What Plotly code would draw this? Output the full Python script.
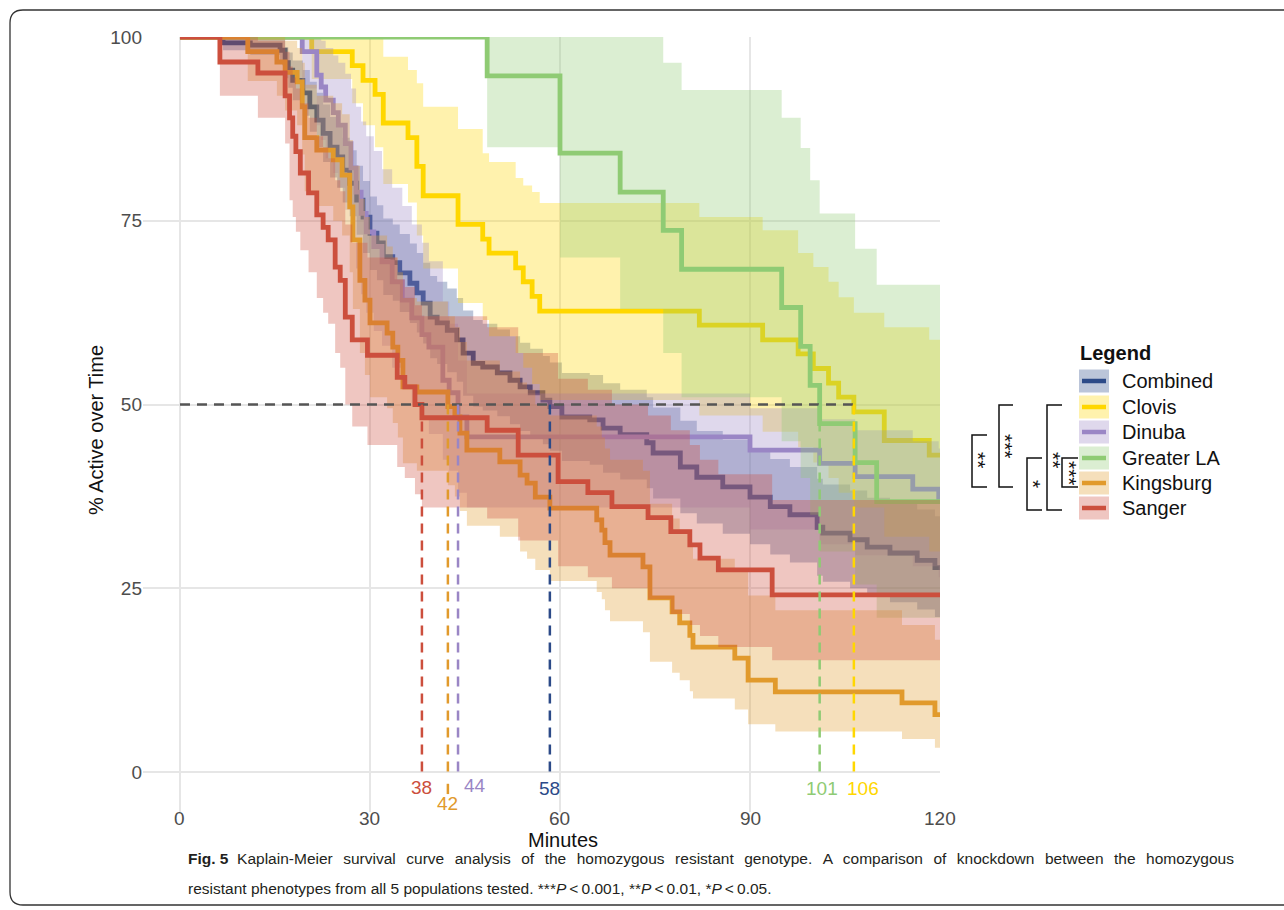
import plotly.graph_objects as go

# ---------------- data ----------------
GROUPS = ["Combined", "Clovis", "Dinuba", "Greater LA", "Kingsburg", "Sanger"]

COMBINED_T = [0, 6.8, 11.1, 15.8, 16.6, 17.1, 17.8, 19.4, 20.5, 21.6, 22.6, 23.7, 24.8, 25.7, 26.8, 27.9, 28.9,
              30.0, 31.1, 32.1, 33.6, 34.7, 36.3, 37.4, 38.4, 39.5, 40.6, 42.2, 43.7, 44.7, 46.3, 47.8, 50.1,
              52.1, 53.7, 55.3, 57.3, 58.4, 60.3, 64.7, 66.8, 69.5, 73.7, 74.7, 79.0, 81.6, 85.7, 90.0, 93.2,
              96.3, 100.6, 101.5, 105.8, 108.5, 112.1, 116.4, 119.2]
COMBINED_S = [100, 99.2, 98.9, 98.2, 96.5, 95.5, 94.1, 92.4, 90.5, 88.7, 86.9, 85.0, 83.7, 81.9, 80.1, 77.8, 75.5,
              73.3, 72.0, 70.1, 69.3, 67.9, 66.5, 65.2, 63.8, 61.9, 61.1, 60.1, 58.8, 57.0, 55.6, 55.1, 54.3,
              53.3, 52.4, 51.6, 50.6, 49.7, 48.3, 47.9, 46.8, 45.9, 44.8, 43.4, 41.5, 40.1, 38.8, 37.4, 36.1,
              35.0, 33.3, 32.5, 31.6, 30.6, 29.8, 28.8, 27.8]
COMBINED_HI = [100, 100, 100, 99.8, 98.6, 97.9, 96.8, 95.5, 93.9, 92.4, 90.8, 89.1, 87.9, 86.3, 84.6, 82.5, 80.4,
               78.3, 77.1, 75.3, 74.5, 73.2, 71.9, 70.6, 69.3, 67.5, 66.7, 65.8, 64.5, 62.8, 61.5, 61.0, 60.2,
               59.3, 58.4, 57.6, 56.6, 55.7, 54.3, 54.0, 52.9, 52.0, 51.0, 49.6, 47.8, 46.4, 45.2, 43.8, 42.6,
               41.5, 39.9, 39.1, 38.3, 37.3, 36.6, 35.7, 34.8]
COMBINED_LO = [100, 98.2, 97.6, 96.6, 94.4, 93.1, 91.4, 89.3, 87.1, 85.0, 83.0, 80.9, 79.5, 77.5, 75.6, 73.1, 70.6,
               68.3, 66.9, 64.9, 64.1, 62.6, 61.1, 59.8, 58.3, 56.3, 55.5, 54.4, 53.1, 51.2, 49.7, 49.2, 48.4,
               47.3, 46.4, 45.6, 44.6, 43.7, 42.3, 41.8, 40.7, 39.8, 38.6, 37.2, 35.2, 33.8, 32.4, 31.0, 29.6,
               28.5, 26.7, 25.9, 25.0, 24.0, 23.1, 22.1, 21.1]

CLOVIS_T = [0, 20.8, 27.2, 28.9, 30.8, 32.1, 36.0, 37.4, 38.4, 43.9, 47.8, 48.8, 53.0, 54.2, 55.6, 56.8, 82.0,
            92.0, 97.6, 100.0, 102.4, 104.0, 106.4, 111.2, 118.3]
CLOVIS_S = [100, 98.0, 96.1, 94.1, 92.2, 88.3, 86.3, 82.4, 78.4, 74.5, 72.5, 70.6, 68.6, 66.7, 64.7, 62.7, 60.8,
            58.8, 56.9, 54.9, 52.9, 51.0, 49.0, 45.1, 43.1]
CLOVIS_HI = [100, 100, 100, 100, 100, 97.3, 95.5, 93.7, 90.5, 87.5, 84.2, 83.0, 80.8, 79.8, 78.9, 77.4, 75.5,
             73.7, 70.6, 68.7, 66.7, 64.6, 62.5, 60.5, 58.8]
CLOVIS_LO = [100, 94.3, 91.0, 88.0, 85.0, 80.0, 77.5, 73.0, 68.5, 63.8, 61.5, 59.3, 57.0, 55.0, 52.8, 50.6, 48.5,
             46.3, 44.2, 42.1, 40.0, 38.0, 36.0, 32.0, 30.0]

DINUBA_T = [0, 19.3, 21.6, 22.3, 23.0, 24.2, 25.0, 26.1, 27.0, 27.8, 28.6, 29.4, 30.6, 31.9, 33.5, 35.1, 36.6,
            38.2, 39.3, 41.5, 42.5, 43.9, 45.3, 90.0, 101.0, 106.6, 115.7, 119.8]
DINUBA_S = [100, 98.0, 94.8, 93.2, 91.4, 89.7, 88.0, 85.5, 82.2, 78.9, 76.0, 73.5, 71.5, 69.4, 66.7, 64.2, 61.8,
            59.5, 57.8, 53.3, 51.6, 48.3, 45.6, 43.8, 42.0, 40.2, 38.5, 37.0]
DINUBA_HI = [100, 100, 100, 99.5, 98.5, 97.5, 96.5, 95.0, 93.0, 90.5, 88.5, 86.5, 84.5, 82.0, 79.5, 77.0, 74.5,
             72.0, 69.5, 64.0, 61.0, 56.0, 51.5, 49.5, 48.0, 46.5, 45.0, 44.0]
DINUBA_LO = [100, 93.0, 88.0, 86.0, 83.5, 81.5, 79.5, 76.5, 72.5, 68.5, 65.0, 62.5, 60.0, 58.0, 55.0, 52.5, 50.0,
             48.0, 46.0, 42.5, 41.0, 38.0, 36.0, 33.0, 31.0, 29.5, 28.0, 26.5]

GLA_T = [0, 48.5, 60.0, 69.5, 76.3, 79.2, 95.0, 98.0, 99.5, 101.0, 106.6, 110.0]
GLA_S = [100, 94.7, 84.2, 78.9, 73.7, 68.4, 63.2, 57.9, 52.6, 47.4, 42.1, 36.8]
GLA_HI = [100, 100, 100, 100, 96.5, 92.8, 89.0, 84.9, 80.5, 76.0, 71.2, 66.3]
GLA_LO = [100, 85.0, 70.0, 63.0, 57.0, 51.0, 45.0, 40.0, 35.0, 30.0, 25.5, 21.0]

KINGS_T = [0, 10.7, 15.3, 16.6, 18.5, 19.3, 19.7, 21.6, 24.2, 25.6, 26.8, 27.3, 28.4, 29.2, 30.0, 32.7, 33.6,
           34.4, 35.2, 37.4, 42.3, 43.4, 44.2, 45.3, 50.5, 53.7, 54.8, 56.1, 58.4, 65.8, 66.6, 67.1, 67.9, 73.1,
           74.2, 77.7, 78.9, 80.5, 81.0, 87.6, 89.7, 94.0, 114.0, 119.2]
KINGS_S = [100, 98.0, 96.6, 95.2, 93.9, 90.5, 86.3, 84.6, 83.3, 81.2, 76.9, 72.4, 66.9, 64.2, 61.1, 59.7, 57.8,
           56.0, 52.4, 51.7, 49.7, 48.3, 46.1, 43.8, 42.2, 40.4, 39.3, 37.4, 35.9, 34.3, 32.9, 31.2, 29.5, 27.9,
           23.7, 21.8, 20.3, 18.6, 17.0, 15.5, 12.5, 10.9, 9.4, 7.8]
KINGS_HI = [100, 100, 100, 99.5, 98.5, 96.5, 93.5, 92.0, 91.0, 89.5, 86.0, 82.5, 78.0, 75.5, 73.0, 71.5, 70.0,
            68.0, 64.5, 64.0, 62.0, 60.5, 58.5, 56.0, 54.5, 53.0, 52.0, 50.0, 48.5, 47.0, 45.5, 44.0, 42.5, 41.0,
            36.5, 34.5, 33.0, 31.0, 29.0, 27.5, 24.0, 22.0, 20.0, 18.0]
KINGS_LO = [100, 94.0, 92.0, 90.0, 88.0, 84.0, 79.0, 77.0, 75.0, 73.0, 68.0, 63.0, 57.0, 54.0, 51.0, 49.5, 47.5,
            45.5, 42.0, 41.0, 39.0, 37.5, 35.5, 33.5, 32.0, 30.0, 29.0, 27.5, 26.0, 24.5, 23.5, 22.0, 20.5, 19.0,
            15.0, 13.5, 12.5, 11.0, 10.0, 8.5, 6.5, 5.5, 4.5, 3.3]

SANGER_T = [0, 6.3, 12.3, 16.6, 17.3, 17.8, 18.3, 19.0, 20.3, 21.6, 22.6, 23.4, 24.5, 25.3, 26.1, 27.2, 29.6,
            34.3, 35.5, 37.1, 38.2, 48.5, 53.4, 59.7, 64.4, 68.2, 73.9, 77.5, 80.5, 82.1, 85.0, 93.5]
SANGER_S = [100, 96.6, 95.1, 92.0, 89.0, 86.5, 84.4, 81.5, 78.8, 75.8, 74.1, 72.4, 68.7, 66.9, 61.9, 58.8, 56.7,
            53.7, 52.4, 50.0, 48.2, 46.5, 43.1, 39.5, 38.0, 36.1, 34.6, 32.7, 30.9, 29.1, 27.5, 24.1]
SANGER_HI = [100, 100, 99.5, 98.0, 96.0, 94.5, 93.0, 91.0, 89.0, 86.5, 85.0, 83.5, 80.5, 79.0, 74.5, 72.0, 70.0,
             67.0, 66.0, 63.5, 62.0, 60.5, 57.0, 53.5, 52.0, 50.0, 48.5, 46.5, 44.5, 42.5, 40.5, 37.0]
SANGER_LO = [100, 92.0, 89.0, 85.5, 77.8, 75.5, 73.5, 71.0, 68.0, 64.5, 62.5, 61.0, 57.0, 55.0, 50.0, 47.0, 44.5,
             41.5, 40.0, 37.8, 36.0, 34.5, 31.5, 28.0, 26.5, 25.0, 23.5, 21.5, 20.0, 18.5, 17.0, 15.2]

MEDIAN_GROUPS = ["Sanger", "Kingsburg", "Dinuba", "Combined", "Greater LA", "Clovis"]
MEDIAN_TIMES = [38.2, 42.3, 43.9, 58.4, 101.0, 106.4]
MEDIAN_LABELS = ["38", "42", "44", "58", "101", "106"]

X_TICKS = [0, 30, 60, 90, 120]
Y_TICKS = [0, 25, 50, 75, 100]

SIG_STARS = ["**", "***", "*", "**", "***"]

CAPTION_WORDS_1 = ["Kaplain-Meier", "survival", "curve", "analysis", "of", "the", "homozygous", "resistant",
                   "genotype.", "A", "comparison", "of", "knockdown", "between", "the", "homozygous"]
CAPTION_2 = ("resistant phenotypes from all 5 populations tested. ***<i>P</i>&#8201;&lt;&#8201;0.001, "
             "**<i>P</i>&#8201;&lt;&#8201;0.01, *<i>P</i>&#8201;&lt;&#8201;0.05.")

# ---------------- styles / layout ----------------
LINE_COL = {"Combined": "#2c4a88", "Clovis": "#ffd700", "Dinuba": "#9a86c5",
            "Greater LA": "#8fcb74", "Kingsburg": "#e19a2c", "Sanger": "#cc4f3d"}
ALPHA = 0.32


def rgba(hexc, a):
    h = hexc.lstrip("#")
    r, g, b = int(h[0:2], 16), int(h[2:4], 16), int(h[4:6], 16)
    return f"rgba({r},{g},{b},{a})"


SERIES = {
    "Combined": (COMBINED_T, COMBINED_S, COMBINED_LO, COMBINED_HI),
    "Clovis": (CLOVIS_T, CLOVIS_S, CLOVIS_LO, CLOVIS_HI),
    "Dinuba": (DINUBA_T, DINUBA_S, DINUBA_LO, DINUBA_HI),
    "Greater LA": (GLA_T, GLA_S, GLA_LO, GLA_HI),
    "Kingsburg": (KINGS_T, KINGS_S, KINGS_LO, KINGS_HI),
    "Sanger": (SANGER_T, SANGER_S, SANGER_LO, SANGER_HI),
}
T_END = 120

FIG_W, FIG_H = 1284, 910
PL, PR, PT, PB = 143, 940, 37, 812   # plot area in pixels
X_MIN = -5.84
Y_MIN = -5.44
FONT = "Liberation Sans, Arial, sans-serif"
Y0_PX = 772  # pixel row of y = 0


def px(xp):
    return (xp - PL) / (PR - PL)


def py(yp):
    return (PB - yp) / (PB - PT)


def band_polygon(t, lo, hi):
    xs, ys = [], []
    n = len(t)
    for i in range(n):
        t1 = t[i + 1] if i + 1 < n else T_END
        xs += [t[i], t1]
        ys += [hi[i], hi[i]]
    for i in reversed(range(n)):
        t1 = t[i + 1] if i + 1 < n else T_END
        xs += [t1, t[i]]
        ys += [lo[i], lo[i]]
    return xs, ys


fig = go.Figure()
for g in GROUPS:
    t, s, lo, hi = SERIES[g]
    bx, by = band_polygon(t, lo, hi)
    fig.add_trace(go.Scatter(x=bx, y=by, fill="toself", fillcolor=rgba(LINE_COL[g], ALPHA),
                             line=dict(width=0), mode="lines", hoverinfo="skip", showlegend=False))
    fig.add_trace(go.Scatter(x=list(t) + [T_END], y=list(s) + [s[-1]], mode="lines", line_shape="hv",
                             line=dict(color=LINE_COL[g], width=4.8), name=g, showlegend=False))

shapes = []
annotations = []

# median reference lines
shapes.append(dict(type="line", xref="x", yref="y", x0=0, x1=max(MEDIAN_TIMES), y0=50, y1=50,
                   line=dict(color="#555555", width=2.5, dash="10px,7px"), layer="above"))
label_offsets = {"38": (0, 15), "42": (0, 31), "44": (17, 13), "58": (0, 16), "101": (2, 16), "106": (9, 16)}
for g, m, lab in zip(MEDIAN_GROUPS, MEDIAN_TIMES, MEDIAN_LABELS):
    shapes.append(dict(type="line", xref="x", yref="y", x0=m, x1=m, y0=50, y1=0,
                       line=dict(color=LINE_COL[g], width=2.5, dash="10px,7px"), layer="above"))
    dx, dy = label_offsets[lab]
    annotations.append(dict(x=m, y=0, xref="x", yref="y", text=lab, showarrow=False, xshift=dx, yshift=-dy,
                            font=dict(family=FONT, size=19, color=LINE_COL[g]), xanchor="center", yanchor="middle"))
# repel leader for "42"
shapes.append(dict(type="line", xref="x", yref="y", x0=MEDIAN_TIMES[1], x1=MEDIAN_TIMES[1], y0=-1.6, y1=-3.0,
                   line=dict(color=LINE_COL["Kingsburg"], width=2.5)))

# x tick labels (placed like the reference, tight under the panel)
for v in X_TICKS:
    annotations.append(dict(x=v, y=0, xref="x", yref="y", text=str(v), showarrow=False, yshift=-(818 - Y0_PX),
                            font=dict(family=FONT, size=19, color="#4d4d4d"), xanchor="center", yanchor="middle"))

# axis titles
annotations.append(dict(x=px(563), y=py(840), xref="paper", yref="paper", text="Minutes", showarrow=False,
                        font=dict(family=FONT, size=20, color="#111111"), xanchor="center", yanchor="middle"))
annotations.append(dict(x=px(96), y=py(430), xref="paper", yref="paper", text="% Active over Time",
                        showarrow=False, textangle=-90,
                        font=dict(family=FONT, size=20, color="#111111"), xanchor="center", yanchor="middle"))

# custom legend
annotations.append(dict(x=px(1078), y=py(353), xref="paper", yref="paper", text="<b>Legend</b>", showarrow=False,
                        font=dict(family=FONT, size=20, color="#111111"), xanchor="left", yanchor="middle"))
ROW_Y = [381, 407, 432, 458, 483, 508]
for g, ry in zip(GROUPS, ROW_Y):
    shapes.append(dict(type="rect", xref="paper", yref="paper", x0=px(1079), x1=px(1109),
                       y0=py(ry - 11.5), y1=py(ry + 11.5), fillcolor=rgba(LINE_COL[g], ALPHA),
                       line=dict(width=0)))
    shapes.append(dict(type="line", xref="paper", yref="paper", x0=px(1082), x1=px(1106), y0=py(ry), y1=py(ry),
                       line=dict(color=LINE_COL[g], width=4.5)))
    annotations.append(dict(x=px(1120), y=py(ry), xref="paper", yref="paper", text=g, showarrow=False,
                            font=dict(family=FONT, size=20, color="#111111"), xanchor="left", yanchor="middle"))

# significance brackets: (vertical x, arm end x, top y, bottom y, star x, star y)
BRACKETS = [(972, 987, 435, 487, 979, 460), (999, 1013, 405, 487, 1006, 447),
            (1027, 1042, 458, 510, 1034, 484), (1047, 1062, 405, 510, 1054, 460),
            (1062, 1078, 458, 487, 1069, 473)]
for (xv, xa, yt, yb, sx, sy), stars in zip(BRACKETS, SIG_STARS):
    path = (f"M {px(xa)},{py(yt)} L {px(xv)},{py(yt)} L {px(xv)},{py(yb)} L {px(xa)},{py(yb)}")
    shapes.append(dict(type="path", xref="paper", yref="paper", path=path, line=dict(color="#111111", width=1.5)))
    annotations.append(dict(x=px(sx), y=py(sy), xref="paper", yref="paper", text=stars, showarrow=False,
                            textangle=90, font=dict(family=FONT, size=21, color="#111111"),
                            xanchor="center", yanchor="middle"))

# caption (first line spread out like the justified original)
CAPTION_1 = "<b>Fig. 5</b>&nbsp;&nbsp;" + " &#8201;&#8201;".join(CAPTION_WORDS_1)
annotations.append(dict(x=px(186), y=py(858), xref="paper", yref="paper", text=CAPTION_1, showarrow=False,
                        font=dict(family=FONT, size=15.5, color="#231f20"), xanchor="left", yanchor="middle"))
annotations.append(dict(x=px(186), y=py(888), xref="paper", yref="paper", text=CAPTION_2, showarrow=False,
                        font=dict(family=FONT, size=15.5, color="#231f20"), xanchor="left", yanchor="middle"))

# rounded frame
fx0, fx1, fy0, fy1, rr = 10, 1300, 10, 905, 13
frame = (f"M {px(fx1)},{py(fy0)} L {px(fx0 + rr)},{py(fy0)} Q {px(fx0)},{py(fy0)} {px(fx0)},{py(fy0 + rr)} "
         f"L {px(fx0)},{py(fy1 - rr)} Q {px(fx0)},{py(fy1)} {px(fx0 + rr)},{py(fy1)} L {px(fx1)},{py(fy1)}")
shapes.append(dict(type="path", xref="paper", yref="paper", path=frame, line=dict(color="#333333", width=1.3)))

fig.update_layout(
    width=FIG_W, height=FIG_H,
    margin=dict(l=PL, r=FIG_W - PR, t=PT, b=FIG_H - PB),
    paper_bgcolor="white", plot_bgcolor="white",
    font=dict(family=FONT),
    shapes=shapes, annotations=annotations,
    xaxis=dict(range=[X_MIN, T_END], tickvals=X_TICKS, showticklabels=False,
               showgrid=True, gridcolor="#e6e6e6", gridwidth=1.8, zeroline=False, showline=False, ticks=""),
    yaxis=dict(range=[Y_MIN, 100], tickvals=Y_TICKS, ticktext=[str(v) for v in Y_TICKS],
               showgrid=True, gridcolor="#e6e6e6", gridwidth=1.8, zeroline=False, showline=False,
               ticks="", tickfont=dict(family=FONT, size=19, color="#4d4d4d")),
    showlegend=False,
)

fig.write_html("out.html")
